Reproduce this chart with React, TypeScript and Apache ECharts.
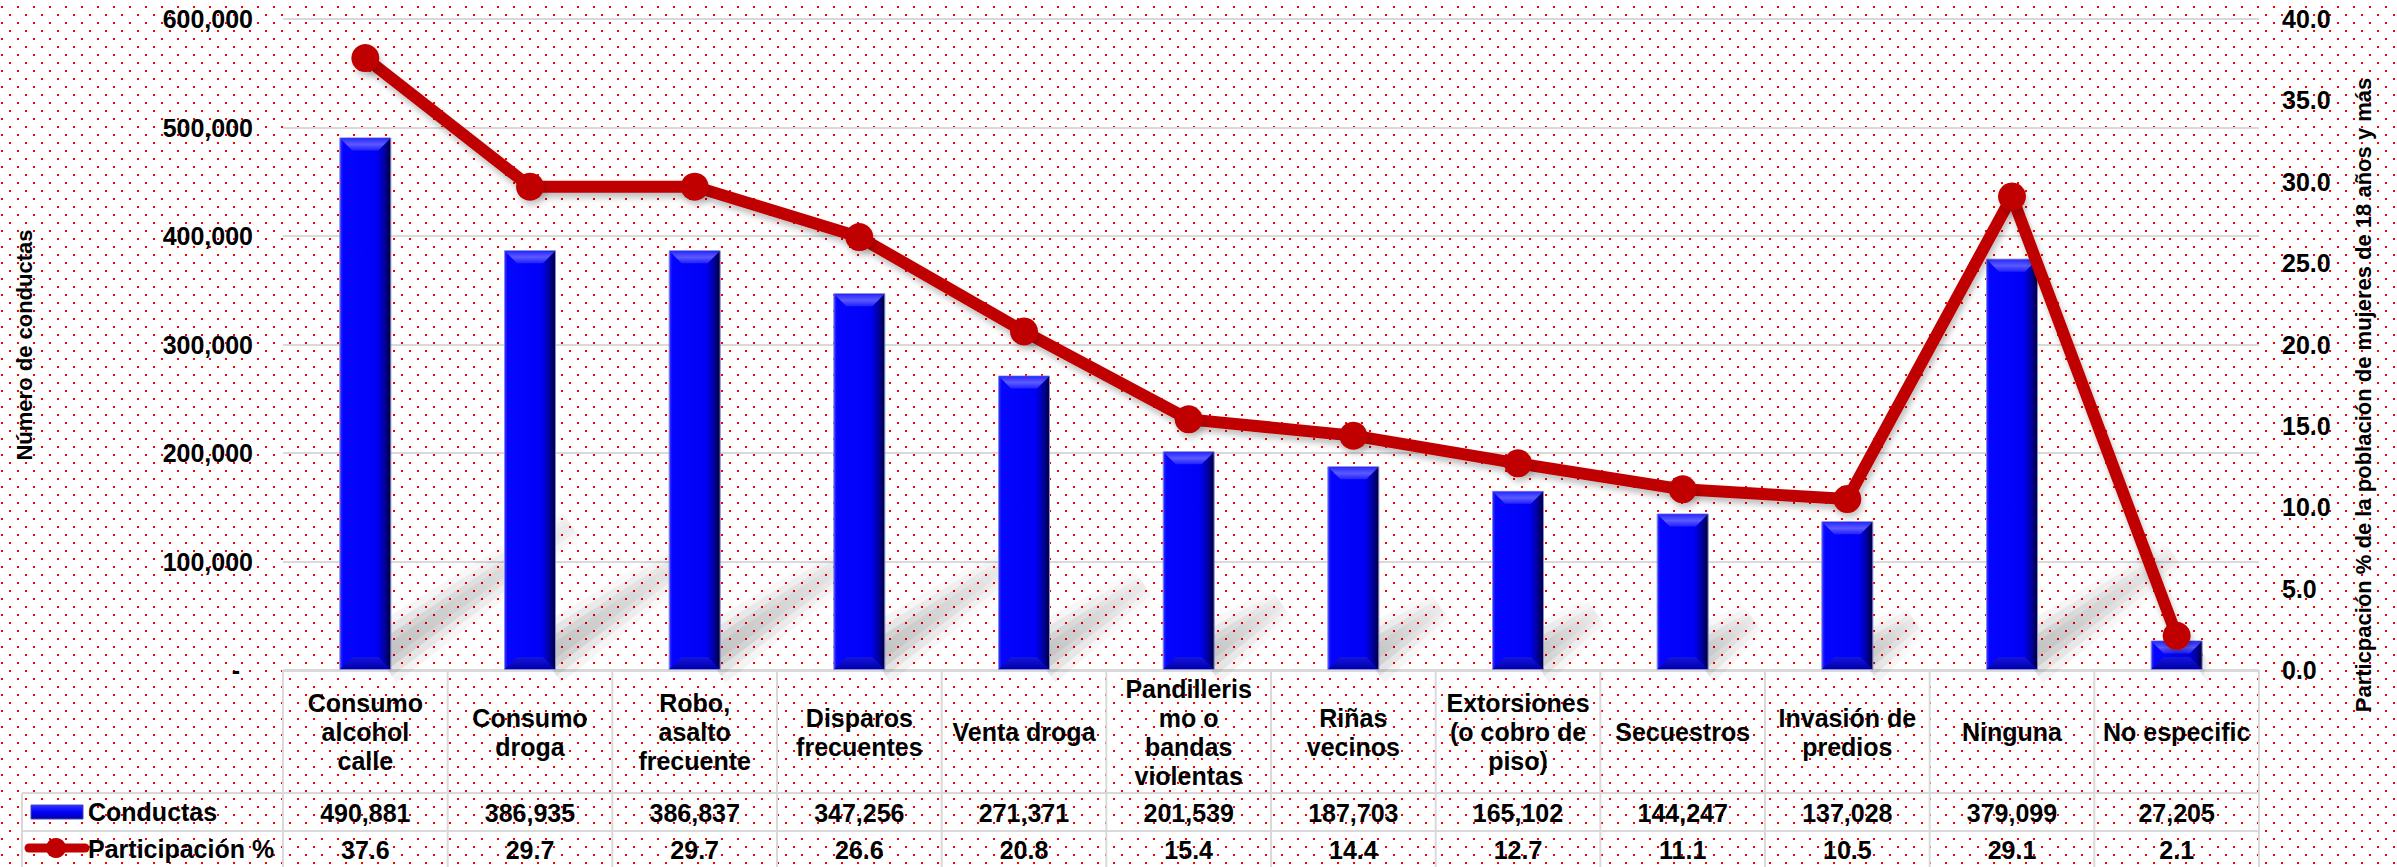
import React, { useEffect, useRef } from "react";
import * as echarts from "echarts";

const categories = [
  "Consumo\nalcohol\ncalle",
  "Consumo\ndroga",
  "Robo,\nasalto\nfrecuente",
  "Disparos\nfrecuentes",
  "Venta droga",
  "Pandilleris\nmo o\nbandas\nviolentas",
  "Riñas\nvecinos",
  "Extorsiones\n(o cobro de\npiso)",
  "Secuestros",
  "Invasión de\npredios",
  "Ninguna",
  "No especific",
];
const conductas = [490881, 386935, 386837, 347256, 271371, 201539, 187703, 165102, 144247, 137028, 379099, 27205];
const participacion = [37.6, 29.7, 29.7, 26.6, 20.8, 15.4, 14.4, 12.7, 11.1, 10.5, 29.1, 2.1];
const seriesNames = ["Conductas", "Participación %"];
const leftTitle = "Número de conductas";
const rightTitle = "Particpación % de la población de mujeres de 18 años y más";

const FONT = "'Liberation Sans', Arial, Helvetica, sans-serif";
const fmtInt = (v: number) => v.toLocaleString("en-US");

const dotsBg =
  "url(\"data:image/svg+xml,%3Csvg xmlns='http://www.w3.org/2000/svg' width='16' height='16'%3E%3Crect x='1' y='6' width='2' height='2' fill='%23ff0000'/%3E%3Crect x='9' y='14' width='2' height='2' fill='%23ff0000'/%3E%3C/svg%3E\")";

export default function App() {
  const ref = useRef<HTMLDivElement>(null);

  useEffect(() => {
    const chart = echarts.init(ref.current!, null, { renderer: "svg" });
    const W = 2397;
    const H = 867;
    const gridLeft = 283;
    const gridRight = 138;
    const gridTop = 19;
    const gridBottom = 197;
    const plotRight = W - gridRight;
    const plotBottom = H - gridBottom;
    const cellW = (plotRight - gridLeft) / categories.length;
    const headerBottom = 793;
    const row1Bottom = 831;
    const tableColor = "#d9d9d9";
    const barW = 52;

    const graphics: any[] = [];
    const hline = (x1: number, x2: number, y: number) =>
      graphics.push({ type: "line", silent: true, z: 1, shape: { x1, y1: y, x2, y2: y }, style: { stroke: tableColor, lineWidth: 2 } });
    const vline = (x: number, y1: number, y2: number) =>
      graphics.push({ type: "line", silent: true, z: 1, shape: { x1: x, y1, x2: x, y2 }, style: { stroke: tableColor, lineWidth: 2 } });
    hline(gridLeft, plotRight, plotBottom + 1);
    hline(22, plotRight, headerBottom);
    hline(22, plotRight, row1Bottom);
    hline(22, plotRight, 869);
    vline(22, headerBottom, H);
    for (let i = 0; i <= categories.length; i++) vline(gridLeft + i * cellW, plotBottom, H);

    const barGrad = new echarts.graphic.LinearGradient(0, 0, 1, 0, [
      { offset: 0, color: "#3a3aff" },
      { offset: 0.06, color: "#0505ff" },
      { offset: 0.72, color: "#0000f6" },
      { offset: 0.88, color: "#0000a0" },
      { offset: 1, color: "#000030" },
    ]);

    // legend keys in the table
    graphics.push({
      type: "rect", silent: true, z: 2,
      shape: { x: 31, y: 805, width: 52, height: 14 },
      style: { fill: new echarts.graphic.LinearGradient(0, 0, 0, 1, [
        { offset: 0, color: "#3333ff" }, { offset: 0.5, color: "#0000ff" }, { offset: 1, color: "#0000a0" },
      ]), stroke: "#4444bb", lineWidth: 1 },
    });
    graphics.push({
      type: "text", silent: true, z: 2, x: 88, y: 812,
      style: { text: seriesNames[0], fill: "#000", font: `bold 25px ${FONT}`, textAlign: "left", textVerticalAlign: "middle" },
    });
    graphics.push({
      type: "line", silent: true, z: 2,
      shape: { x1: 29, y1: 848, x2: 85, y2: 848 },
      style: { stroke: "#c00000", lineWidth: 9, lineCap: "round" },
    });
    graphics.push({ type: "circle", silent: true, z: 2, shape: { cx: 56, cy: 848, r: 10 }, style: { fill: "#c00000" } });
    graphics.push({
      type: "text", silent: true, z: 2, x: 88, y: 849,
      style: { text: seriesNames[1], fill: "#000", font: `bold 25px ${FONT}`, textAlign: "left", textVerticalAlign: "middle" },
    });

    // axis titles
    graphics.push({
      type: "text", silent: true, z: 2, x: 24, y: 345, rotation: Math.PI / 2,
      style: { text: leftTitle, fill: "#000", font: `bold 22px ${FONT}`, textAlign: "center", textVerticalAlign: "middle" },
    });
    graphics.push({
      type: "text", silent: true, z: 2, x: 2363, y: 395, rotation: Math.PI / 2,
      style: { text: rightTitle, fill: "#000", font: `bold 22px ${FONT}`, textAlign: "center", textVerticalAlign: "middle" },
    });

    const labelBase = { fontSize: 25, fontWeight: "bold", color: "#000", fontFamily: FONT };

    const shadowLayers = [
      { w: 60, o: 0.05 },
      { w: 44, o: 0.07 },
      { w: 28, o: 0.09 },
      { w: 14, o: 0.06 },
    ];

    const option: any = {
      animation: false,
      backgroundColor: "transparent",
      textStyle: { fontFamily: FONT },
      grid: { left: gridLeft, right: gridRight, top: gridTop, bottom: gridBottom, containLabel: false },
      xAxis: [
        {
          type: "category", data: categories, position: "bottom", offset: 0,
          axisLine: { show: false }, axisTick: { show: false },
          axisLabel: { ...labelBase, interval: 0, margin: 62, lineHeight: 29, verticalAlign: "middle", align: "center" },
        },
        {
          type: "category", data: conductas.map(fmtInt), position: "bottom", offset: 0,
          axisLine: { show: false }, axisTick: { show: false },
          axisLabel: { ...labelBase, interval: 0, margin: 143, verticalAlign: "middle" },
        },
        {
          type: "category", data: participacion.map((v) => v.toFixed(1)), position: "bottom", offset: 0,
          axisLine: { show: false }, axisTick: { show: false },
          axisLabel: { ...labelBase, interval: 0, margin: 180, verticalAlign: "middle" },
        },
      ],
      yAxis: [
        {
          type: "value", min: 0, max: 600000, interval: 100000,
          axisLine: { show: false }, axisTick: { show: false },
          splitLine: { show: true, lineStyle: { color: "#d9d9d9", width: 2 } },
          axisLabel: {
            ...labelBase, margin: 30,
            formatter: (v: number) => (v === 0 ? "{d|-}" : fmtInt(v)),
            rich: { d: { ...labelBase, padding: [0, 13, 0, 0] } },
          },
        },
        {
          type: "value", min: 0, max: 40, interval: 5, position: "right",
          axisLine: { show: false }, axisTick: { show: false }, splitLine: { show: false },
          axisLabel: { ...labelBase, margin: 23, formatter: (v: number) => v.toFixed(1) },
        },
      ],
      series: [
        {
          type: "custom", name: "shadow", xAxisIndex: 0, yAxisIndex: 0, z: 1, silent: true, clip: false,
          data: conductas.map((v, i) => [i, v]),
          encode: { x: 0, y: 1 },
          renderItem: (params: any, api: any) => {
            const i = api.value(0);
            const v = api.value(1);
            const base = api.coord([i, 0]);
            const top = api.coord([i, v]);
            const h = base[1] - top[1];
            const bx = base[0] + 14;
            const by = base[1] - 12;
            const dx = 0.36 * h;
            const dy = 0.25 * h;
            const len = Math.sqrt(dx * dx + dy * dy) || 1;
            const nx = dy / len;
            const ny = dx / len;
            const tx = bx + dx;
            const ty = by - dy;
            return {
              type: "group",
              children: shadowLayers.map((L) => ({
                type: "polygon",
                shape: {
                  points: [
                    [bx - nx * L.w / 2, by - ny * L.w / 2],
                    [bx + nx * L.w / 2, by + ny * L.w / 2],
                    [tx + nx * L.w * 0.3, ty + ny * L.w * 0.3],
                    [tx - nx * L.w * 0.3, ty - ny * L.w * 0.3],
                  ],
                },
                style: {
                  fill: new echarts.graphic.LinearGradient(bx, by, tx, ty, [
                    { offset: 0, color: `rgba(0,0,0,${L.o})` },
                    { offset: 1, color: `rgba(0,0,0,${L.o * 0.3})` },
                  ], true),
                },
              })),
            };
          },
        },
        {
          type: "bar", name: seriesNames[0], data: conductas, xAxisIndex: 0, yAxisIndex: 0, z: 2,
          barWidth: barW,
          itemStyle: { color: barGrad, borderColor: "#8888dd", borderWidth: 1 },
        },
        {
          type: "custom", name: "bevel", xAxisIndex: 0, yAxisIndex: 0, z: 3, silent: true, clip: false,
          data: conductas.map((v, i) => [i, v]),
          encode: { x: 0, y: 1 },
          renderItem: (params: any, api: any) => {
            const i = api.value(0);
            const v = api.value(1);
            const base = api.coord([i, 0]);
            const top = api.coord([i, v]);
            const x0 = base[0] - barW / 2 + 1;
            const x1 = base[0] + barW / 2 - 1;
            const b = 12;
            const yt = top[1] + 1;
            const yb = base[1] - 1;
            return {
              type: "group",
              children: [
                {
                  type: "polygon",
                  shape: { points: [[x0, yt], [x1, yt], [x1 - b, yt + b], [x0 + b, yt + b]] },
                  style: { fill: new echarts.graphic.LinearGradient(0, 0, 0, 1, [
                    { offset: 0, color: "#2a2aff" }, { offset: 0.5, color: "#5a5aff" }, { offset: 1, color: "#2020ff" },
                  ]) },
                },
                {
                  type: "polygon",
                  shape: { points: [[x0, yb], [x1, yb], [x1 - b, yb - b], [x0 + b, yb - b]] },
                  style: { fill: new echarts.graphic.LinearGradient(0, 0, 0, 1, [
                    { offset: 0, color: "#1515e0" }, { offset: 1, color: "#0000a8" },
                  ]) },
                },
              ],
            };
          },
        },
        {
          type: "line", name: seriesNames[1], data: participacion, xAxisIndex: 0, yAxisIndex: 1, z: 5,
          symbol: "circle", symbolSize: 28,
          lineStyle: { color: "#c00000", width: 12, shadowColor: "rgba(0,0,0,0.25)", shadowBlur: 6, shadowOffsetX: 2, shadowOffsetY: 5 },
          itemStyle: { color: "#c00000", shadowColor: "rgba(0,0,0,0.2)", shadowBlur: 6, shadowOffsetX: 2, shadowOffsetY: 5 },
        },
      ],
      graphic: { elements: graphics },
    };

    chart.setOption(option);
    return () => chart.dispose();
  }, []);

  return (
    <div
      ref={ref}
      style={{
        position: "absolute",
        left: 0,
        top: 0,
        width: 2397,
        height: 867,
        backgroundColor: "#ffffff",
        backgroundImage: dotsBg,
        backgroundRepeat: "repeat",
      }}
    />
  );
}
